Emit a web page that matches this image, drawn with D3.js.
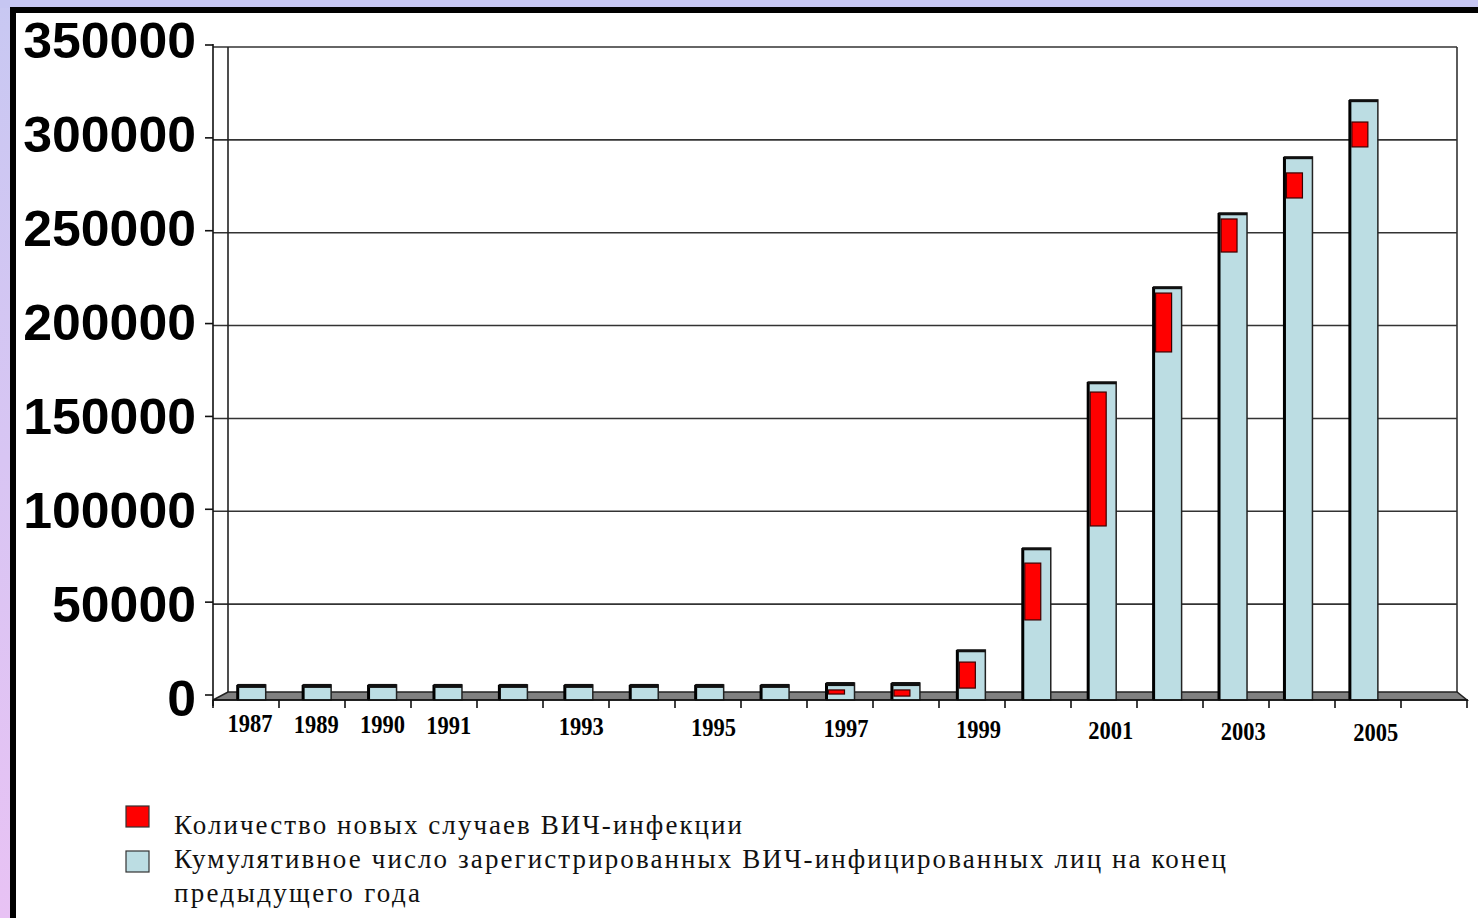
<!DOCTYPE html>
<html>
<head>
<meta charset="utf-8">
<script src="https://cdn.jsdelivr.net/npm/d3@7"></script>
<style>
  body{margin:0;padding:0;overflow:hidden;}
  svg{display:block;}
</style>
</head>
<body>
<svg id="chart" width="1478" height="918"></svg>
<script>
// DATA
let years=["1987","1989","1990","1991","1992","1993","1994","1995","1996","1997","1998","1999","2000","2001","2002","2003","2004","2005","2006"];
let yearLabels=["1987","1989","1990","1991","","1993","","1995","","1997","","1999","","2001","","2003","","2005",""];
// cumulative number at end of previous year (light blue)
let cumulative=[6500,6500,6500,6500,6500,6500,6500,6500,6500,7500,7500,25300,80200,169600,220800,260600,290800,321500,null];
// new cases (red) - visible part of the bar, top and bottom value
let newTop=[null,null,null,null,null,null,null,null,null,3800,3800,18800,72100,164200,217500,257400,282200,309600,null];
let newBottom=[null,null,null,null,null,null,null,null,null,1600,500,4800,41500,92100,185800,239600,268700,296200,null];
let yTicks=[0,50000,100000,150000,200000,250000,300000,350000];
let legendNew="Количество новых случаев ВИЧ-инфекции";
let legendCum1="Кумулятивное число зарегистрированных ВИЧ-инфицированных лиц на конец";
let legendCum2="предыдущего года";

let svg=d3.select("#chart");

// background and frame
let defs=svg.append("defs");
let grad=defs.append("linearGradient").attr("id","side").attr("x1",0).attr("y1",0).attr("x2",0).attr("y2",1);
grad.append("stop").attr("offset","0%").attr("stop-color","#c8c8f2");
grad.append("stop").attr("offset","100%").attr("stop-color","#e8c2f4");
svg.append("rect").attr("width",1478).attr("height",918).attr("fill","url(#side)");
svg.append("rect").attr("width",1478).attr("height",8).attr("fill","#c6c6f2");
svg.append("rect").attr("x",10).attr("y",7).attr("width",1468).attr("height",911).attr("fill","#000");
svg.append("rect").attr("x",16).attr("y",13).attr("width",1462).attr("height",905).attr("fill","#fff");

// scales
let y=d3.scaleLinear().domain([0,350000]).range([697,47]);
let yLab=d3.scaleLinear().domain([0,350000]).range([698,40]);
let xBar=d3.scaleBand().domain(years).range([219,1462]);
let xTick=d3.scaleBand().domain(years).range([213,1467]);
let xLab=d3.scaleBand().domain(years).range([217,1475]);
let barW=28;

// gridlines
svg.append("g").selectAll("line").data(yTicks.filter(d=>d>0)).enter().append("line")
    .attr("x1",213).attr("x2",1457)
    .attr("y1",d=>y(d)).attr("y2",d=>y(d))
    .attr("stroke","#333").attr("stroke-width",1.6);
// back wall and right wall
svg.append("line").attr("x1",228).attr("x2",228).attr("y1",y(350000)).attr("y2",692).attr("stroke","#222").attr("stroke-width",1.6);
svg.append("line").attr("x1",1457).attr("x2",1457).attr("y1",y(350000)).attr("y2",692).attr("stroke","#333").attr("stroke-width",1.6);

// floor
svg.append("polygon")
    .attr("points","213,700 228,692 1457,692 1467,700")
    .attr("fill","#808080").attr("stroke","#222").attr("stroke-width",1.5);

// light blue bars
let bars=svg.append("g").selectAll("g").data(years.map((d,i)=>({year:d,v:cumulative[i]})).filter(d=>d.v!=null))
    .enter().append("g")
    .attr("transform",d=>"translate("+(xBar(d.year)+xBar.bandwidth()/2-barW/2)+",0)");
bars.append("rect")
    .attr("y",d=>y(d.v)).attr("width",barW).attr("height",d=>700-y(d.v))
    .attr("fill","#bcdde3").attr("stroke","#222").attr("stroke-width",1.5);
bars.append("line")
    .attr("x1",0).attr("x2",0).attr("y1",d=>y(d.v)).attr("y2",700)
    .attr("stroke","#000").attr("stroke-width",3);
bars.append("line")
    .attr("x1",0).attr("x2",barW).attr("y1",d=>y(d.v)+1).attr("y2",d=>y(d.v)+1)
    .attr("stroke","#111").attr("stroke-width",d=>d.v<10000?4:2.5);

// red bars
let reds=svg.append("g").selectAll("rect").data(years.map((d,i)=>({year:d,t:newTop[i],b:newBottom[i]})).filter(d=>d.t!=null))
    .enter().append("rect")
    .attr("x",d=>xBar(d.year)+xBar.bandwidth()/2-barW/2+2)
    .attr("y",d=>y(d.t))
    .attr("width",16)
    .attr("height",d=>y(d.b)-y(d.t))
    .attr("fill","#ff0000").attr("stroke","#3a0000").attr("stroke-width",1.2);

// front axes
svg.append("line").attr("x1",213).attr("x2",213).attr("y1",y(350000)-3).attr("y2",706).attr("stroke","#111").attr("stroke-width",1.6);
svg.append("line").attr("x1",213).attr("x2",1468).attr("y1",700).attr("y2",700).attr("stroke","#111").attr("stroke-width",1.6);
svg.append("g").selectAll("line").data(yTicks).enter().append("line")
    .attr("x1",205).attr("x2",213).attr("y1",d=>y(d)-2).attr("y2",d=>y(d)-2)
    .attr("stroke","#111").attr("stroke-width",1.6);
svg.append("g").selectAll("line").data(years.concat(["end"])).enter().append("line")
    .attr("x1",(d,i)=>i<years.length?xTick(d):xTick(years[years.length-1])+xTick.bandwidth())
    .attr("x2",(d,i)=>i<years.length?xTick(d):xTick(years[years.length-1])+xTick.bandwidth())
    .attr("y1",700).attr("y2",708)
    .attr("stroke","#111").attr("stroke-width",1.6);

// y labels
svg.append("g").selectAll("text").data(yTicks).enter().append("text")
    .attr("x",196).attr("y",d=>yLab(d)).attr("dy","0.36em")
    .attr("text-anchor","end")
    .attr("font-family","Liberation Sans, Arial, sans-serif").attr("font-weight","bold").attr("font-size",50)
    .attr("textLength",d=>String(d).length*28.8).attr("lengthAdjust","spacingAndGlyphs")
    .attr("fill","#000")
    .text(d=>d);

// x labels
svg.append("g").selectAll("text").data(years).enter().append("text")
    .attr("x",d=>xLab(d)+xLab.bandwidth()/2)
    .attr("y",(d,i)=>732+i*0.5)
    .attr("text-anchor","middle")
    .attr("font-family","Liberation Serif, Times New Roman, serif").attr("font-weight","bold").attr("font-size",26)
    .attr("textLength",(d,i)=>yearLabels[i]?45:null).attr("lengthAdjust","spacingAndGlyphs")
    .attr("fill","#000")
    .text((d,i)=>yearLabels[i]);

// legend
let leg=svg.append("g").attr("font-family","Liberation Serif, Times New Roman, serif").attr("font-size",27).attr("fill","#111");
leg.append("rect").attr("x",126).attr("y",806).attr("width",23).attr("height",21).attr("fill","#ff0000").attr("stroke","#333").attr("stroke-width",1.2);
leg.append("rect").attr("x",126).attr("y",851).attr("width",23).attr("height",21).attr("fill","#bcdde3").attr("stroke","#333").attr("stroke-width",1.2);
leg.append("text").attr("x",174).attr("y",834).attr("textLength",568).text(legendNew);
leg.append("text").attr("x",174).attr("y",868).attr("textLength",1052).text(legendCum1);
leg.append("text").attr("x",174).attr("y",902).attr("textLength",246).text(legendCum2);
</script>
</body>
</html>
